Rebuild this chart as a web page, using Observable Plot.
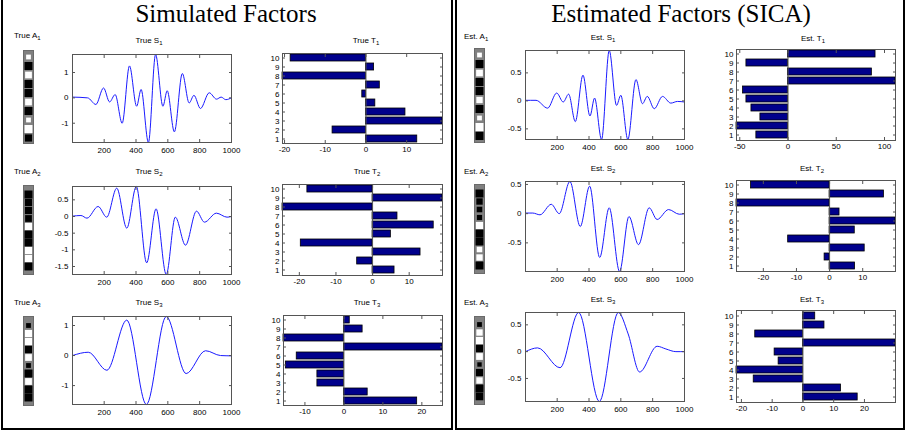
<!DOCTYPE html>
<html><head><meta charset="utf-8">
<script src="https://cdn.jsdelivr.net/npm/d3@7"></script>
<script src="https://cdn.jsdelivr.net/npm/@observablehq/plot@0.6"></script>
<style>
body{margin:0;background:#fff;}
#root{position:relative;width:906px;height:431px;overflow:hidden;font-family:"Liberation Sans",Arial,sans-serif;background:#fff;}
.box{position:absolute;border:2px solid #000;border-top:none;box-sizing:border-box;}
.big{position:absolute;font-family:"Liberation Serif","Times New Roman",serif;font-size:25px;white-space:nowrap;transform:translateX(-50%);top:1px;line-height:1;}
.lab{position:absolute;font-size:8px;white-space:nowrap;line-height:1;color:#000;}
.lab.c{transform:translateX(-50%);}
.lab sub{font-size:6px;vertical-align:-2px;line-height:0;}
</style></head><body><div id="root"></div>
<script>
// ---------- data ----------
const trials = [1,2,3,4,5,6,7,8,9,10];
const sTicks = [200,400,600,800,1000];

const trueS1 = [[1,0.03],[96,0],[148,-0.26],[196,0.39],[234,-0.16],[269,0.13],[313,-1.0],[359,1.26],[404,-0.33],[432,0.33],[478,-1.76],[523,1.71],[569,-0.33],[596,0.28],[641,-1.34],[691,0.96],[734,-0.2],[764,0.1],[805,-0.42],[860,0.2],[906,-0.05],[935,0.03],[964,-0.07],[1000,0]];
const trueS2 = [[1,0.01],[54,0.03],[92,-0.05],[162,0.3],[216,-0.02],[279,0.85],[342,-0.35],[402,0.9],[467,-1.39],[526,0.23],[590,-1.74],[647,-0.02],[711,-0.86],[780,0.16],[830,-0.17],[905,0.1],[972,-0.02],[1000,0]];
const trueS3 = [[1,0],[100,0.11],[217,-0.49],[342,1.18],[465,-1.63],[590,1.3],[715,-0.6],[837,0.16],[931,0],[1000,-0.01]];
const estS1 = [[1,0.01],[67,0.01],[140,-0.13],[197,0.14],[238,-0.02],[272,0.12],[314,-0.37],[362,0.46],[406,-0.27],[435,0.05],[479,-0.69],[527,0.9],[573,-0.08],[600,0.1],[644,-0.69],[695,0.38],[736,-0.05],[766,0.08],[810,-0.14],[862,0.08],[914,-0.04],[956,-0.01],[1000,-0.02]];
const estS2 = [[1,0.01],[47,0.01],[92,-0.02],[163,0.16],[213,0],[280,0.55],[345,-0.22],[404,0.47],[467,-0.75],[527,0.1],[592,-0.99],[651,-0.05],[711,-0.53],[778,0.1],[828,-0.1],[900,0.07],[967,-0.01],[1000,0]];
const estS3 = [[1,0],[77,0.07],[218,-0.3],[335,0.73],[465,-0.93],[584,0.73],[646,0.33],[718,-0.38],[828,0.1],[883,0.05],[946,0],[1000,0]];

const trueS1Ticks = [-1,0,1];
const trueS2Ticks = [-1.5,-1,-0.5,0,0.5];
const trueS3Ticks = [-1,0,1];
const estS1Ticks = [-0.5,0,0.5];
const estS2Ticks = [-0.5,0,0.5];
const estS3Ticks = [-0.5,0,0.5];

const trueA1 = [0.6,-1,0.85,-1,-1,0.85,-1,0.6,1,-0.9];
const trueA2 = [-1,-0.9,-0.9,-0.85,0.9,-1,-1,0.9,0.9,-1];
const trueA3 = [-0.6,0.9,0.9,-0.9,0.85,-0.6,-1,0.85,-1,-1];
const estA1 = [0.6,-1,0.85,-1,-1,0.8,-1,0.6,1,-1];
const estA2 = [-1,-0.8,-0.7,-0.65,0.9,-1,-1,0.7,0.8,-1];
const estA3 = [-0.6,0.8,0.9,-0.9,0.85,-0.55,-0.9,0.8,-1,-0.95];

const trueT1 = [12.6,-8.2,18.8,9.7,2.3,-0.9,3.4,-20.5,2.0,-18.5];
const trueT2 = [6.0,-4.2,13.1,-19.6,5.0,16.7,6.8,-24.6,19.1,-17.8];
const trueT3 = [18.8,6.1,-6.8,-6.8,-14.9,-12.1,25.3,-15.5,4.8,1.5];
const estT1 = [-32.8,-53.4,-28.6,-37.9,-43.1,-46.6,111.4,86.9,-43.1,90.7];
const estT2 = [7.7,-1.5,10.6,-12.5,7.6,19.9,3.0,-28.1,16.4,-23.7];
const estT3 = [17.8,12.4,-16.0,-21.6,-7.9,-9.2,30.1,-15.5,7.0,4.0];

const trueT1Ticks = [-20,-10,0,10];
const trueT2Ticks = [-20,-10,0,10];
const trueT3Ticks = [-10,0,10,20];
const estT1Ticks = [-50,0,50,100];
const estT2Ticks = [-20,-10,0,10];
const estT3Ticks = [-20,-10,0,10,20];

// ---------- drawing ----------
const root = document.getElementById("root");
const fmt = d => String(d);
const blank = () => "";
const baseStyle = {fontSize:"8px", fontFamily:"'Liberation Sans', Arial, sans-serif", background:"transparent", color:"#000", overflow:"visible"};

function place(svg, left, top) {
  svg.style.position = "absolute";
  svg.style.left = left + "px";
  svg.style.top = top + "px";
  root.append(svg);
}

function sPlot(pts, fr, yTicks) {
  const [x0,x1,y0,y1] = fr;
  const mL=30, mR=4, mT=4, mB=18;
  const data = pts.map(([x,y]) => ({x,y}));
  const svg = Plot.plot({
    width: x1-x0+mL+mR, height: y1-y0+mT+mB,
    marginLeft:mL, marginRight:mR, marginTop:mT, marginBottom:mB,
    style: baseStyle,
    x: {domain:[1,1000]},
    y: {domain: d3.extent(data, d => d.y)},
    marks: [
      Plot.line(data, {x:"x", y:"y", curve:"monotone-x", stroke:"#1a1aff", strokeWidth:1}),
      Plot.frame({stroke:"#555"}),
      Plot.axisX({anchor:"bottom", ticks:sTicks, tickSize:-3, tickPadding:8, tickFormat:fmt, label:null, stroke:"#555"}),
      Plot.axisX({anchor:"top", ticks:sTicks, tickSize:-3, tickFormat:blank, label:null, stroke:"#555"}),
      Plot.axisY({anchor:"left", ticks:yTicks, tickSize:-3, tickPadding:7, tickFormat:fmt, label:null, stroke:"#555"}),
      Plot.axisY({anchor:"right", ticks:yTicks, tickSize:-3, tickFormat:blank, label:null, stroke:"#555"})
    ]
  });
  place(svg, x0-mL, y0-mT);
}

function tPlot(vals, fr, xTicks) {
  const [x0,x1,y0,y1] = fr;
  const mL=30, mR=4, mT=4, mB=16;
  const data = vals.map((v,i) => ({i: trials[i], v}));
  const svg = Plot.plot({
    width: x1-x0+mL+mR, height: y1-y0+mT+mB,
    marginLeft:mL, marginRight:mR, marginTop:mT, marginBottom:mB,
    style: baseStyle,
    x: {domain: d3.extent([...vals, 0])},
    y: {type:"band", domain: trials.slice().reverse(), paddingInner:0.2, paddingOuter:0.1},
    marks: [
      Plot.barX(data, {x:"v", y:"i", fill:"#00008c", stroke:"#000", strokeWidth:0.8}),
      Plot.ruleX([0], {stroke:"#555"}),
      Plot.frame({stroke:"#555"}),
      Plot.axisX({anchor:"bottom", ticks:xTicks, tickSize:-3, tickPadding:5.5, tickFormat:fmt, label:null, stroke:"#555"}),
      Plot.axisX({anchor:"top", ticks:xTicks, tickSize:-3, tickFormat:blank, label:null, stroke:"#555"}),
      Plot.axisY({anchor:"left", tickSize:-3, tickPadding:6, tickFormat:fmt, label:null, stroke:"#555"}),
      Plot.axisY({anchor:"right", tickSize:-3, tickFormat:blank, label:null, stroke:"#555"})
    ]
  });
  place(svg, x0-mL, y0-mT);
}

function aPlot(vals, fr) {
  const [x0,x1,y0,y1] = fr;
  const data = vals.map((v,i) => ({i: trials[i], m: Math.abs(v), c: v > 0 ? "white" : "black"}));
  const svg = Plot.plot({
    width: x1-x0, height: y1-y0, margin:0,
    style: baseStyle,
    y: {type:"band", domain: trials, padding:0, axis:null},
    r: {type:"linear", domain:[0,1], range:[0,4.5]},
    marks: [
      Plot.frame({fill:"#808080", stroke:"#6a6a6a"}),
      Plot.dot(data, {y:"i", r:"m", fill:"c", symbol:"square"})
    ]
  });
  place(svg, x0, y0);
}

function label(main, sub, x, y, centered) {
  const d = document.createElement("div");
  d.className = "lab" + (centered ? " c" : "");
  d.style.left = x + "px"; d.style.top = y + "px";
  d.innerHTML = main + "<sub>" + sub + "</sub>";
  root.append(d);
}

// boxes & big titles
for (const [l,t,w,h] of [[1,-2,452,432],[455,-2,450,432]]) {
  const b = document.createElement("div");
  b.className = "box";
  Object.assign(b.style, {left:l+"px", top:t+"px", width:w+"px", height:h+"px"});
  root.append(b);
}
for (const [txt,x] of [["Simulated Factors",226],["Estimated Factors (SICA)",681]]) {
  const d = document.createElement("div");
  d.className = "big"; d.style.left = x + "px"; d.textContent = txt;
  root.append(d);
}

// left panel
aPlot(trueA1, [23,33,50,143]);
aPlot(trueA2, [23,33,185,274]);
aPlot(trueA3, [23,33,316,405]);
sPlot(trueS1, [72,231,54,142], trueS1Ticks);
sPlot(trueS2, [72,231,186,274], trueS2Ticks);
sPlot(trueS3, [72,231,316,404], trueS3Ticks);
tPlot(trueT1, [282,442,53,143], trueT1Ticks);
tPlot(trueT2, [282,442,184,275], trueT2Ticks);
tPlot(trueT3, [283,442,315,405], trueT3Ticks);

// right panel
aPlot(estA1, [474,484,48,142]);
aPlot(estA2, [474,484,184,273]);
aPlot(estA3, [474,484,316,404]);
sPlot(estS1, [525,684,50,139], estS1Ticks);
sPlot(estS2, [525,684,181,271], estS2Ticks);
sPlot(estS3, [525,684,312,401], estS3Ticks);
tPlot(estT1, [736,895,49,140], estT1Ticks);
tPlot(estT2, [736,895,180,271], estT2Ticks);
tPlot(estT3, [736,895,310,402], estT3Ticks);

// panel labels
label("True A","1",14,32,false);
label("True S","1",149,37,true);
label("True T","1",366,37,true);
label("True A","2",14,168,false);
label("True S","2",149,168,true);
label("True T","2",367,168,true);
label("True A","3",14,299,false);
label("True S","3",149,299,true);
label("True T","3",367,299,true);
label("Est. A","1",464,33,false);
label("Est. S","1",603,34,true);
label("Est. T","1",813,35,true);
label("Est. A","2",464,168,false);
label("Est. S","2",603,165,true);
label("Est. T","2",812,165,true);
label("Est. A","3",464,299,false);
label("Est. S","3",603,296,true);
label("Est. T","3",812,296,true);
</script></body></html>
